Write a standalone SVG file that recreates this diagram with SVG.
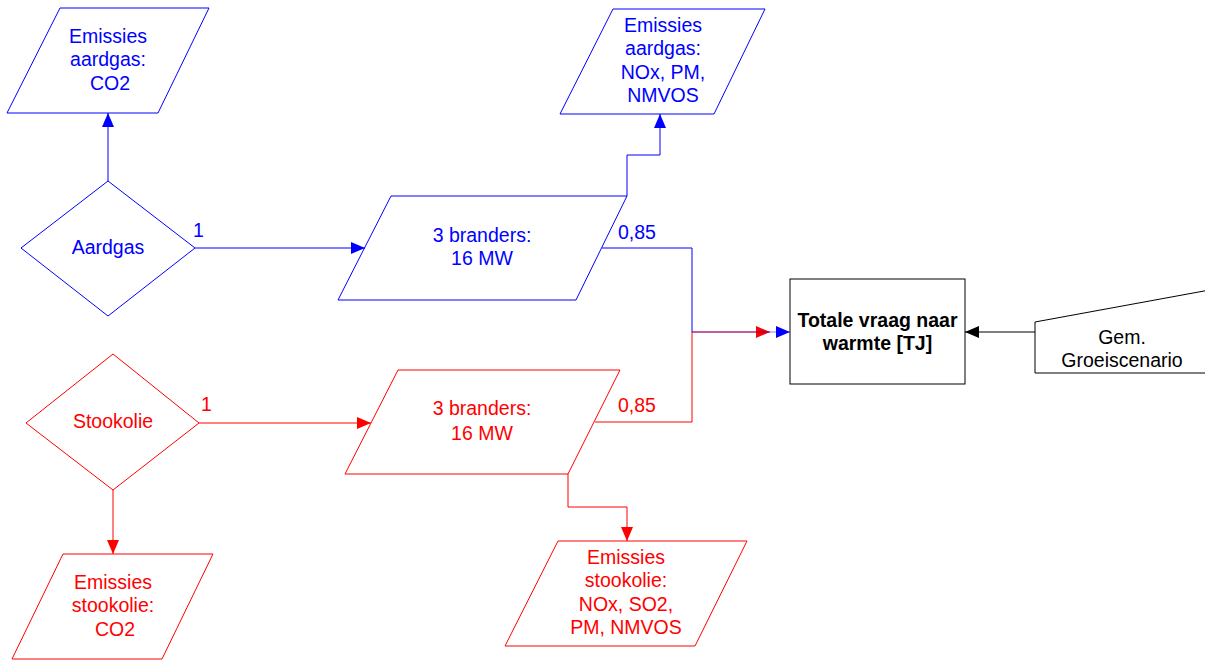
<svg xmlns="http://www.w3.org/2000/svg" width="1205" height="660" viewBox="0 0 1205 660">
<style>
text{font-family:"Liberation Sans",Arial,sans-serif;font-size:19.5px;text-anchor:middle}
.b{fill:none;stroke:#0000ff;stroke-width:1}
.r{fill:none;stroke:#ff0000;stroke-width:1}
.k{fill:none;stroke:#000;stroke-width:1}
.bt{fill:#0000ff}
.rt{fill:#ff0000}
.kt{fill:#000}
.bold{font-weight:bold}
.lab{text-anchor:start}
</style>
<defs>
<marker id="ab" markerUnits="userSpaceOnUse" markerWidth="14" markerHeight="12" refX="14" refY="6" orient="auto"><path d="M0,0L14,6L0,12z" fill="#0000ff"/></marker>
<marker id="ar" markerUnits="userSpaceOnUse" markerWidth="14" markerHeight="12" refX="14" refY="6" orient="auto"><path d="M0,0L14,6L0,12z" fill="#ff0000"/></marker>
<marker id="ak" markerUnits="userSpaceOnUse" markerWidth="14" markerHeight="12" refX="14" refY="6" orient="auto"><path d="M0,0L14,6L0,12z" fill="#000"/></marker>
</defs>
<rect width="1205" height="660" fill="#fff"/>
<g id="connectors">
<path class="b" d="M108,181V113" marker-end="url(#ab)"/>
<path class="b" d="M195,248H365" marker-end="url(#ab)"/>
<path class="b" d="M627,196V155H660V114" marker-end="url(#ab)"/>
<path class="r" d="M199,423H371" marker-end="url(#ar)"/>
<path class="r" d="M113,490V554" marker-end="url(#ar)"/>
<path class="r" d="M568,474V507H627V541" marker-end="url(#ar)"/>
<path class="r" d="M595,422H692V332H770" marker-end="url(#ar)"/>
<path class="b" d="M602,248H692V332" />
<path d="M692,332H790" fill="none" stroke="#0000ff" stroke-opacity="0.5" marker-end="url(#ab)"/>
<path class="k" d="M1035,332H965" marker-end="url(#ak)"/>
<text class="bt lab" x="193" y="237">1</text>
<text class="bt lab" x="618" y="239">0,85</text>
<text class="rt lab" x="201" y="411">1</text>
<text class="rt lab" x="618" y="412">0,85</text>
</g>
<g id="em-aardgas-co2">
<polygon class="b" points="60,8 209,8 158,113 7,113"/>
<text class="bt" x="108" y="43">Emissies</text>
<text class="bt" x="108" y="66">aardgas:</text>
<text class="bt" x="110" y="90">CO2</text>
</g>
<g id="em-aardgas-nox">
<polygon class="b" points="613,9 765,9 714,114 560,114"/>
<text class="bt" x="663" y="32">Emissies</text>
<text class="bt" x="663" y="55">aardgas:</text>
<text class="bt" x="663" y="79">NOx, PM,</text>
<text class="bt" x="663" y="102">NMVOS</text>
</g>
<g id="aardgas">
<polygon class="b" points="108,181 195,248 108,316 21,248"/>
<text class="bt" x="108" y="254">Aardgas</text>
</g>
<g id="branders-aardgas">
<polygon class="b" points="391,196 627,196 576,300 338,300"/>
<text class="bt" x="482" y="242">3 branders:</text>
<text class="bt" x="482" y="265">16 MW</text>
</g>
<g id="totale-vraag">
<rect class="k" x="790" y="279" width="175" height="105"/>
<text class="kt bold" x="877.5" y="327">Totale vraag naar</text>
<text class="kt bold" x="877.5" y="350">warmte [TJ]</text>
</g>
<g id="groeiscenario">
<path class="k" d="M1215,289L1035,322V373H1215"/>
<text class="kt" x="1122" y="344">Gem.</text>
<text class="kt" x="1122" y="367">Groeiscenario</text>
</g>
<g id="stookolie">
<polygon class="r" points="113,354 199,423 113,490 26,423"/>
<text class="rt" x="113" y="428">Stookolie</text>
</g>
<g id="branders-stookolie">
<polygon class="r" points="398,370 620,370 568,474 345,474"/>
<text class="rt" x="482" y="415">3 branders:</text>
<text class="rt" x="482" y="440">16 MW</text>
</g>
<g id="em-stookolie-co2">
<polygon class="r" points="63,554 213,554 162,659 12,659"/>
<text class="rt" x="113" y="589">Emissies</text>
<text class="rt" x="113" y="612">stookolie:</text>
<text class="rt" x="115" y="636">CO2</text>
</g>
<g id="em-stookolie-nox">
<polygon class="r" points="558,541 747,541 695,646 505,646"/>
<text class="rt" x="626" y="564">Emissies</text>
<text class="rt" x="626" y="587">stookolie:</text>
<text class="rt" x="626" y="611">NOx, SO2,</text>
<text class="rt" x="626" y="634">PM, NMVOS</text>
</g>
</svg>
